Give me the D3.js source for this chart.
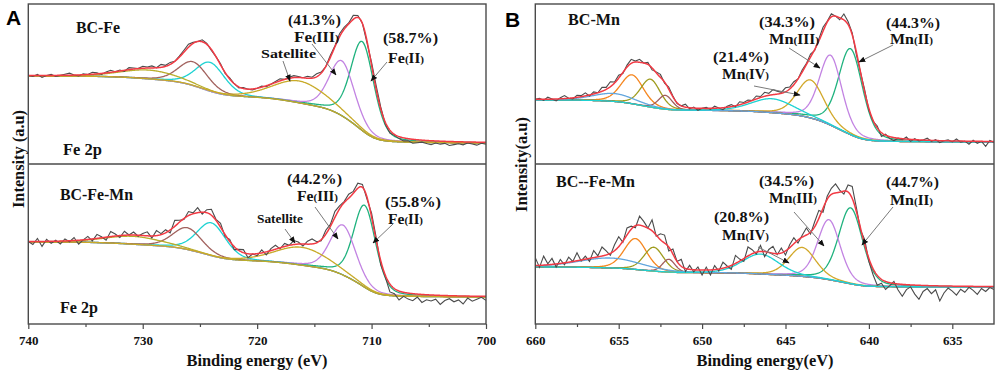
<!DOCTYPE html>
<html><head><meta charset="utf-8">
<script src="https://cdn.jsdelivr.net/npm/d3@7"></script>
<style>body{margin:0;background:#fff}svg{display:block}</style>
</head><body>
<svg id="chart" width="996" height="373"></svg>
<script>
// ================= DATA =================
const feTicks = [740,735,730,725,720,715,710,705,700];
const feTickLabels = [740,730,720,710,700];
const mnTicks = [660,657.5,655,652.5,650,647.5,645,642.5,640,637.5,635];
const mnTickLabels = [660,655,650,645,640,635];

const sampleNames = ["BC-Fe","BC-Fe-Mn","BC-Mn","BC--Fe-Mn"];
const feShares = ["(41.3%)","(58.7%)","(44.2%)","(55.8%)"];
const mnShares = ["(34.3%)","(44.3%)","(21.4%)","(34.5%)","(44.7%)","(20.8%)"];

// fitted components: center (eV), height above background, FWHM (eV)
const feTopPeaks = [
  {comp:"Fe(II)",      center:710.8, height:89, fwhm:2.4},
  {comp:"Fe(III)",     center:712.6, height:55, fwhm:2.6},
  {comp:"Fe(II)-2p1",  center:724.1, height:29, fwhm:3.0},
  {comp:"Fe(III)-2p1", center:725.6, height:24, fwhm:3.0},
  {comp:"Sat-2p1",     center:729.4, height:9,  fwhm:6.0},
  {comp:"Satellite",   center:716.3, height:22, fwhm:5.5}
];
const feBottomPeaks = [
  {comp:"Fe(II)",      center:710.6, height:82, fwhm:2.3},
  {comp:"Fe(III)",     center:712.5, height:50, fwhm:2.6},
  {comp:"Fe(II)-2p1",  center:724.0, height:33, fwhm:3.0},
  {comp:"Fe(III)-2p1", center:726.1, height:22, fwhm:3.0},
  {comp:"Sat-2p1",     center:730.8, height:8,  fwhm:6.0},
  {comp:"Satellite",   center:716.1, height:18, fwhm:5.5}
];
const mnTopPeaks = [
  {comp:"Mn(II)",   center:641.1, height:86, fwhm:1.7},
  {comp:"Mn(III)",  center:642.3, height:70, fwhm:1.6},
  {comp:"Mn(IV)",   center:643.5, height:38, fwhm:1.9},
  {comp:"Mn-a",     center:654.2, height:29, fwhm:1.6},
  {comp:"Mn-b",     center:653.1, height:28, fwhm:1.4},
  {comp:"Mn-c",     center:652.2, height:14, fwhm:1.0},
  {comp:"Mn-d",     center:655.3, height:8,  fwhm:3.0},
  {comp:"Mn-sat",   center:645.8, height:14, fwhm:3.0}
];
const mnBottomPeaks = [
  {comp:"Mn(II)",   center:641.1, height:76, fwhm:1.7},
  {comp:"Mn(III)",  center:642.4, height:60, fwhm:1.6},
  {comp:"Mn(IV)",   center:644.0, height:29, fwhm:1.9},
  {comp:"Mn-a",     center:654.0, height:31, fwhm:1.6},
  {comp:"Mn-b",     center:652.9, height:24, fwhm:1.4},
  {comp:"Mn-c",     center:652.0, height:13, fwhm:0.9},
  {comp:"Mn-d",     center:655.5, height:10, fwhm:4.5},
  {comp:"Mn-sat",   center:646.5, height:20, fwhm:2.6}
];

// Shirley background end levels: [low binding-energy side, high binding-energy side]
const feTopLevels = [21, 88];
const feBottomLevels = [27, 82];
const mnTopLevels = [22, 64];
const mnBottomLevels = [37, 57];

// raw-signal deviations from the fit envelope
// Fe: from 740 eV down in 0.4 eV steps ; Mn: from 660 eV down in 0.25 eV steps
const feRawStart = 740, feRawStep = 0.4;
const mnRawStart = 660, mnRawStep = 0.25;
const feTopRaw = [0,-1,1,-2,0,1,-1,0,1,2,0,-1,1,0,2,1,-1,1,2,0,1,-1,2,1,0,2,
  1,2,0,3,1,2,0,1,2,3,1,0,2,1,-1,0,1,-1,1,0,-1,1,0,-1,0,
  1,-1,0,1,2,0,1,2,1,0,2,1,3,1,0,2,1,3,2,1,4,2,0,-2,3,
  4,2,-2,-3,-1,-2,-3,-2,-4,-3,-2,-3,-4,-2,-3,-2,-4,-3,-2,-3,-1,-2,-3,-1,-2];
const feBottomRaw = [0,-3,3,-5,2,-2,1,-3,2,-1,3,-4,0,3,-2,4,1,-3,5,2,-2,4,0,3,-1,2,
  4,-2,5,1,3,-3,6,2,-1,4,1,5,-2,3,6,1,4,-2,2,-3,1,3,-4,0,-2,
  3,-3,2,4,-1,3,0,4,2,-2,3,5,1,-1,4,2,6,3,1,4,2,5,3,-2,4,
  3,-4,-2,-8,-5,-9,-4,-6,-7,-3,-8,-5,-6,-4,-9,-5,-3,-6,-4,-8,-2,-5,-3,-1,-4];
const mnTopRaw = [0,1,-1,2,0,-2,1,3,0,-1,2,1,3,-1,2,0,4,2,5,1,3,-1,2,4,1,3,0,2,-2,1,3,-1,2,1,-1,0,3,-1,1,-2,0,
  1,-1,2,0,-2,1,2,-1,3,1,2,0,3,1,4,2,5,3,1,4,2,3,0,2,1,3,-1,2,4,1,3,0,-2,6,3,2,-3,0,2,-2,
  -1,2,-4,1,-2,-3,0,-1,2,-2,1,-1,0,2,-1,1,-2,0,1,-1,2,-1,0,-3,1,-2,0,-5,1,-1];
const mnBottomRaw = [8,-2,9,1,6,-3,4,-2,5,0,8,-1,3,-3,7,1,9,4,-2,6,10,-1,7,3,-2,9,5,0,11,-1,6,8,-4,5,0,7,-3,4,-2,3,-5,
  3,-5,4,-2,6,1,-4,8,2,-3,9,4,-2,6,-5,3,7,-1,5,-4,3,6,-3,2,7,-2,5,8,-4,3,6,9,2,-3,7,12,4,-2,5,-3,
  -6,-10,-4,-8,-3,2,-6,-12,-5,-2,-9,-14,-6,-3,-8,-4,-15,-7,-2,-5,-9,-3,-6,-1,-4,-8,-2,-5,-1,-3];

// ================= STYLE =================
const compColor = {
  "Fe(II)":"#1fb27e","Fe(III)":"#c283e2","Fe(II)-2p1":"#1ed2d2","Fe(III)-2p1":"#a2625e",
  "Sat-2p1":"#b9ae2c","Satellite":"#c8aa28",
  "Mn(II)":"#1fb27e","Mn(III)":"#c283e2","Mn(IV)":"#d2a82a","Mn-a":"#f5861f",
  "Mn-b":"#9f9c1e","Mn-c":"#a25d5b","Mn-d":"#63a6de","Mn-sat":"#1ed2d2"
};
const envColor = "#f23a44", rawColor = "#4b4b4b", frameColor = "#4a4a4a";
const SERIF = "Liberation Serif";

const svg = d3.select("#chart");
const defs = svg.append("defs");
defs.append("marker").attr("id","ah").attr("viewBox","0 0 10 10").attr("refX",9).attr("refY",5)
  .attr("markerWidth",7).attr("markerHeight",7).attr("markerUnits","userSpaceOnUse").attr("orient","auto")
  .append("path").attr("d","M0,1 L10,5 L0,9 z").attr("fill","#111");

const pv = (x,c,w) => { const t = (x-c)/w; return 0.72*Math.exp(-4*Math.LN2*t*t) + 0.28/(1+4*t*t); };

function fit(peaks, levels, lo, hi, step){
  const n = Math.round((hi-lo)/step);
  const xs = d3.range(n+1).map(i => lo + i*step);
  const comp = peaks.map(p => xs.map(x => p.height*pv(x,p.center,p.fwhm)));
  const sum = xs.map((x,i) => d3.sum(comp, c => c[i]));
  const cum = [0];
  for(let i=1;i<=n;i++) cum[i] = cum[i-1] + (sum[i]+sum[i-1])/2*step;
  const bg = cum.map(c => levels[0] + (levels[1]-levels[0])*c/cum[n]);
  return {xs, comp, bg, env: sum.map((s,i)=>s+bg[i]), lo, step};
}

function drawSub(g, x, y, f, peaks, raw, rawStart, rawStep, clipId, x0, x1, y0, y1){
  defs.append("clipPath").attr("id",clipId).append("rect")
    .attr("x",x0).attr("y",y0).attr("width",x1-x0).attr("height",y1-y0);
  const cg = g.append("g").attr("clip-path",`url(#${clipId})`);
  const line = d3.line().x(d=>x(d[0])).y(d=>y(d[1]));
  peaks.forEach((p,k) => {
    cg.append("path").attr("d", line(f.xs.map((xx,i)=>[xx, f.bg[i]+f.comp[k][i]])))
      .attr("fill","none").attr("stroke",compColor[p.comp]).attr("stroke-width",1.3);
  });
  const rawPts = raw.map((v,i) => {
    const e = rawStart - i*rawStep;
    const idx = Math.round((e - f.lo)/f.step);
    return [e, f.env[idx] + v];
  });
  cg.append("path").attr("d", line(rawPts)).attr("fill","none").attr("stroke",rawColor).attr("stroke-width",1.1);
  cg.append("path").attr("d", line(f.xs.map((xx,i)=>[xx,f.env[i]])))
    .attr("fill","none").attr("stroke",envColor).attr("stroke-width",1.5);
}

function txt(x, y, parts, size, len, anchor){
  const t = svg.append("text").attr("font-family",SERIF).attr("font-weight","bold").attr("fill","#111")
    .attr("x",x).attr("y",y).attr("font-size",size);
  if (anchor) t.attr("text-anchor",anchor);
  parts.forEach(p => t.append("tspan").attr("font-size", p[1]).text(p[0]));
  if (len) t.attr("textLength",len).attr("lengthAdjust","spacingAndGlyphs");
  return t;
}
function roman(base, num){ return [[base,15],["(",10.5],[num,14],[")",10.5]]; }
function arrow(xa,ya,xb,yb){
  svg.append("line").attr("x1",xa).attr("y1",ya).attr("x2",xb).attr("y2",yb)
    .attr("stroke","#7a7a7a").attr("stroke-width",1).attr("marker-end","url(#ah)");
}

// ================= PANEL A =================
const AX0 = 28.3, AX1 = 486, TOP = 4, MID = 164, BOT = 324;
const xA = d3.scaleLinear().domain([740,700]).range([AX0,AX1]);
const yTop = d3.scaleLinear().domain([0,160]).range([MID,TOP]);
const yBot = d3.scaleLinear().domain([0,160]).range([BOT,MID]);

const gA = svg.append("g");
drawSub(gA, xA, yTop, fit(feTopPeaks, feTopLevels, 700, 740, 0.05), feTopPeaks, feTopRaw, feRawStart, feRawStep, "cA1", AX0, AX1, TOP, MID);
drawSub(gA, xA, yBot, fit(feBottomPeaks, feBottomLevels, 700, 740, 0.05), feBottomPeaks, feBottomRaw, feRawStart, feRawStep, "cA2", AX0, AX1, MID, BOT);

// ================= PANEL B =================
const BX0 = 535.3, BX1 = 994;
const xB = d3.scaleLinear().domain([660,632.5]).range([BX0,BX1]);
const gB = svg.append("g");
drawSub(gB, xB, yTop, fit(mnTopPeaks, mnTopLevels, 632.5, 660, 0.025), mnTopPeaks, mnTopRaw, mnRawStart, mnRawStep, "cB1", BX0, BX1, TOP, MID);
drawSub(gB, xB, yBot, fit(mnBottomPeaks, mnBottomLevels, 632.5, 660, 0.025), mnBottomPeaks, mnBottomRaw, mnRawStart, mnRawStep, "cB2", BX0, BX1, MID, BOT);

// frames, axes
[[AX0,AX1,xA,feTicks,feTickLabels],[BX0,BX1,xB,mnTicks,mnTickLabels]].forEach(([x0,x1,sc,ticks,labs])=>{
  svg.append("rect").attr("x",x0).attr("y",TOP).attr("width",x1-x0).attr("height",BOT-TOP)
    .attr("fill","none").attr("stroke",frameColor).attr("stroke-width",1.4);
  svg.append("line").attr("x1",x0).attr("x2",x1).attr("y1",MID).attr("y2",MID)
    .attr("stroke",frameColor).attr("stroke-width",1.4);
  const ax = svg.append("g").attr("transform",`translate(0,${BOT})`)
    .call(d3.axisBottom(sc).tickValues(ticks).tickSize(4)
      .tickFormat(d => labs.includes(d) ? d : ""));
  ax.attr("font-family",SERIF).attr("font-size",13).attr("font-weight","bold");
  ax.select(".domain").remove();
  ax.selectAll(".tick line").attr("stroke",frameColor).attr("stroke-width",1.2)
    .attr("y2", d => labs.includes(d) ? 5 : 3);
  ax.selectAll(".tick text").attr("font-family",SERIF).attr("font-weight","bold")
    .attr("font-size",13).attr("dy",0).attr("y",21).attr("fill","#111");
});

// axis titles
txt(257, 366, [["Binding energy (eV)",16]], 16, 141, "middle");
txt(765, 366, [["Binding energy(eV)",16]], 16, 137, "middle");
txt(0, 0, [["Intensity (a.u)",16]], 16, 98, "middle").attr("transform","translate(23.5,159) rotate(-90)");
txt(0, 0, [["Intensity(a.u)",16]], 16, 95, "middle").attr("transform","translate(527,164.5) rotate(-90)");

// panel letters
svg.append("text").attr("font-family","Liberation Sans").attr("font-weight","bold")
  .attr("x",6).attr("y",25).attr("font-size",21).text("A");
svg.append("text").attr("font-family","Liberation Sans").attr("font-weight","bold")
  .attr("x",505).attr("y",27).attr("font-size",21).text("B");

// ---- annotations A
txt(76, 33, [[sampleNames[0],16]], 16, 44);
txt(63, 155, [["Fe 2p",16]], 16, 39);
txt(288, 25, [[feShares[0],15]], 15, 53);
txt(294, 42, roman("Fe","III"), 15, 45);
txt(383, 43, [[feShares[1],15]], 15, 55);
txt(388, 63, roman("Fe","II"), 15, 36);
txt(261, 58, [["Satellite",12]], 12, 55);
arrow(283,61,290,81);
arrow(312,44,336,75);
arrow(387,62,371,81);

txt(60, 200, [[sampleNames[1],16]], 16, 73);
txt(60, 313, [["Fe 2p",16]], 16, 38);
txt(287, 184, [[feShares[2],15]], 15, 55);
txt(297, 201, roman("Fe","III"), 15, 41);
txt(385, 207, [[feShares[3],15]], 15, 56);
txt(388, 224, roman("Fe","II"), 15, 35);
txt(257, 223, [["Satellite",12]], 12, 46);
arrow(285,229,295,243);
arrow(315,207,338,239);
arrow(393,224,373,243);

// ---- annotations B
txt(568, 25, [[sampleNames[2],16]], 16, 52);
txt(759, 27, [[mnShares[0],15]], 15, 56);
txt(769, 44, roman("Mn","III"), 15, 50);
txt(886, 28, [[mnShares[1],15]], 15, 54);
txt(890, 44, roman("Mn","II"), 15, 43);
txt(713, 62, [[mnShares[2],15]], 15, 56);
txt(722, 79, roman("Mn","IV"), 15, 47);
arrow(789,48,820,68);
arrow(893,45,859,62);
arrow(754,86,800,95);

txt(556, 187, [[sampleNames[3],16]], 16, 79);
txt(759, 186, [[mnShares[3],15]], 15, 55);
txt(769, 203, roman("Mn","III"), 15, 48);
txt(886, 187, [[mnShares[4],15]], 15, 53);
txt(890, 205, roman("Mn","II"), 15, 43);
txt(714, 222, [[mnShares[5],15]], 15, 55);
txt(722, 240, roman("Mn","IV"), 15, 47);
arrow(794,212,824,246);
arrow(893,207,862,245);
arrow(758,247,789,263);
</script>
</body></html>
